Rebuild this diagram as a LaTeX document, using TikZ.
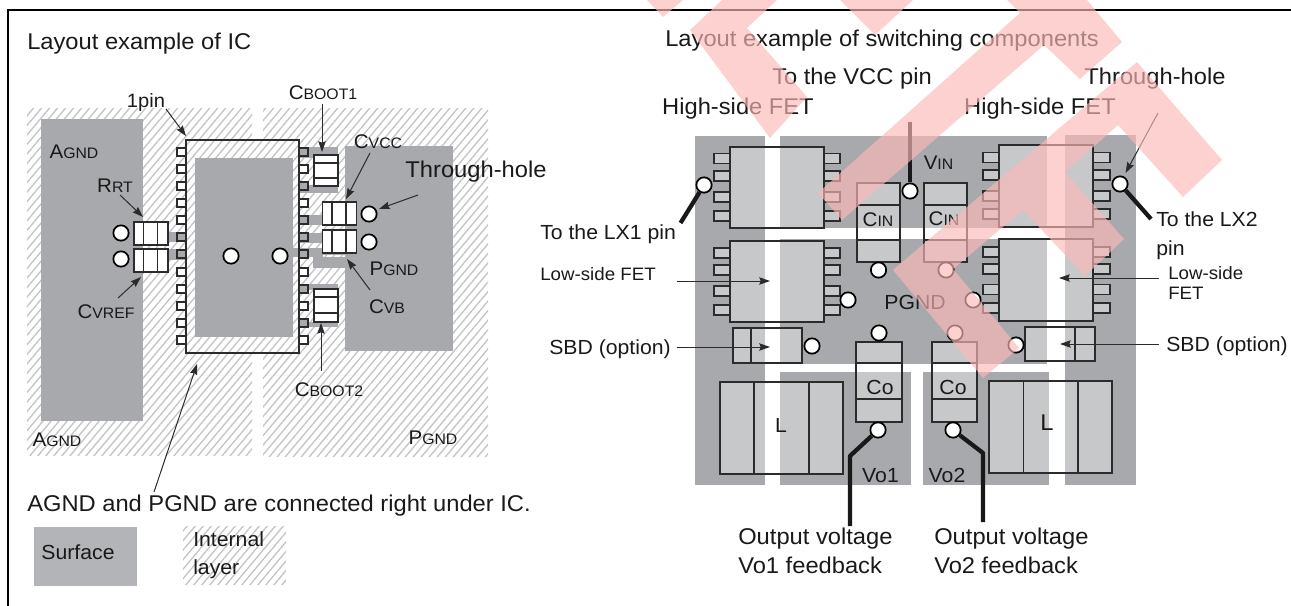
\documentclass[tikz,border=0pt]{standalone}
\usepackage{fontspec}
\setmainfont{Liberation Sans}[FakeStretch=1.04]
\usetikzlibrary{arrows.meta, patterns.meta}
\definecolor{surfgray}{HTML}{A7A9AC}
\definecolor{legendgray}{HTML}{B2B4B7}
\definecolor{chipgray}{HTML}{C6C8CA}
\definecolor{hatchgray}{HTML}{C3C4C6}
\definecolor{inkgray}{HTML}{2B2B2B}
\definecolor{markpink}{HTML}{FEB9B9}
\newcommand{\fsbig}{\fontsize{17.1}{21.75}\selectfont}
\newcommand{\fsmid}{\fontsize{15.3}{21.75}\selectfont}
\newcommand{\fssm}{\fontsize{13.5}{15}\selectfont}
\newcommand{\capsub}[2]{{\fontsize{14.8}{16}\selectfont #1\fontsize{11.4}{13}\selectfont #2}}
\tikzset{
  hatched/.style={pattern={Lines[angle=50,distance=4.6pt,line width=1pt]},pattern color=hatchgray},
  surf/.style={fill=surfgray},
  chip/.style={draw=inkgray,line width=1pt,fill=chipgray},
  chipline/.style={draw=inkgray,line width=0.8pt},
  part/.style={draw=inkgray,line width=1pt,fill=white},
  via/.style={circle,draw=black,fill=white,line width=1.3pt,inner sep=0pt,minimum size=11.5pt},
  lbl/.style={inner sep=0pt,text=black!90,text depth=0pt},
  leader/.style={draw=inkgray,line width=0.75pt,-{Stealth[inset=1pt,length=8pt,width=5.5pt]}},
  wire/.style={draw=black!90,line width=3.2pt},
  wmark/.style={fill=markpink,fill opacity=0.65}
}
\begin{document}
\begin{tikzpicture}[x=0.75pt,y=-0.75pt,font=\fsbig]
\useasboundingbox (0,0) rectangle (1291,606);
\draw[line width=1.6pt] (8,606) -- (8,10) -- (1291,10);
\node[lbl,anchor=west] (titleic) at (27,41) {Layout example of IC};
\node[lbl,anchor=west] (titlesw) at (665,38) {Layout example of switching components};
% IC side
\fill[hatched] (27,109) rectangle (252,455);
\fill[hatched] (263,109) rectangle (488,456);
\fill[hatched] (252,140) rectangle (263,353);
\fill[surf] (41,119) rectangle (143,421);
\fill[surf] (345,146) rectangle (453,351);
\fill[surf] (195,158) rectangle (293,337);
\fill[surf] (299,147) rectangle (338,158);
\fill[surf] (299,185) rectangle (338,193);
\fill[surf] (299,284) rectangle (338,290);
\fill[surf] (299,322) rectangle (338,327);
\fill[surf] (299,215) rectangle (323,225);
\fill[surf] (299,233) rectangle (323,243);
\fill[surf] (292,248) rectangle (323,257);
\fill[surf] (323,253) rectangle (357,255);
\fill[surf] (313,257) rectangle (345,268);
\fill[surf] (168,232) rectangle (186,242);
\fill[surf] (168,249) rectangle (186,260);
\foreach \py in {152,169,186,203,220,237,254,272,289,306,323,340} {
  \draw[part] (177,\py-4) rectangle (186,\py+4);
  \draw[part] (299,\py-4) rectangle (308,\py+4);
}
\foreach \py in {237,254} \draw[chip,fill=surfgray] (177,\py-4) rectangle (186,\py+4);
\foreach \py in {152,186,220,237,254,289,323} \draw[chip,fill=surfgray] (299,\py-4) rectangle (308,\py+4);
\draw[line width=1.7pt,draw=inkgray] (186,140) rectangle (299,353);
\foreach \ya/\yb/\yc/\yd in {155/163/178/186,289/297/313/322} {
  \draw[part] (314,\ya) rectangle (338,\yd);
  \draw[chipline] (314,\yb) -- (338,\yb);
  \draw[chipline] (314,\yc) -- (338,\yc);
}
\foreach \xa/\ya in {322.5/202,322.5/230,134/222,134/249} {
  \draw[part] (\xa,\ya) rectangle (\xa+34,\ya+23);
  \draw[chipline] (\xa+9.5,\ya) -- (\xa+9.5,\ya+23);
  \draw[chipline] (\xa+23.5,\ya) -- (\xa+23.5,\ya+23);
}
\node[via] (viacvcc) at (369,214) {};
\node[via] (viacvb) at (369,242) {};
\node[via] (viarrt) at (121,233) {};
\node[via] (viacvref) at (121,259) {};
\node[via] (viaicl) at (231,256) {};
\node[via] (viaicr) at (280,256) {};
\node[lbl] (pinlbl) at (146,100) {\fontsize{14.5}{16}\selectfont 1pin};
\node[lbl] (cbootalbl) at (323,93) {\capsub{C}{BOOT1}};
\node[lbl] (cvcclbl) at (378,142) {\capsub{C}{VCC}};
\node[lbl] (thruiclbl) at (476,169) {Through-hole};
\node[lbl] (agndtlbl) at (74,152) {\capsub{A}{GND}};
\node[lbl] (rrtlbl) at (115,186) {\capsub{R}{RT}};
\node[lbl] (cvreflbl) at (106,312) {\capsub{C}{VREF}};
\node[lbl] (pgndalbl) at (394,269) {\capsub{P}{GND}};
\node[lbl] (cvblbl) at (387,307) {\capsub{C}{VB}};
\node[lbl] (cbootblbl) at (329,390) {\capsub{C}{BOOT2}};
\node[lbl] (agndblbl) at (57,440) {\capsub{A}{GND}};
\node[lbl] (pgndblbl) at (433,438) {\capsub{P}{GND}};
\node[lbl,anchor=west] (underlbl) at (27,503) {AGND and PGND are connected right under IC.};
\node[fill=legendgray,minimum width=77.6pt,minimum height=44pt,inner sep=0pt] (legsurf) at (85.75,556.5) {};
\node[lbl] (legsurflbl) at (78,552) {\fsmid Surface};
\node[pattern={Lines[angle=50,distance=4.6pt,line width=1pt]},pattern color=hatchgray,minimum width=77pt,minimum height=43pt,inner sep=0pt] (leghatch) at (234.5,555.5) {};
\node[lbl,anchor=west] (leginta) at (193,539) {\fsmid Internal};
\node[lbl,anchor=west] (legintb) at (193,567) {\fsmid layer};
\foreach \nm/\xa/\ya/\xb/\yb in {apin/166/109/186/136,acba/322/104/322/152,acvc/370/153/346/199,athr/418/195/379/209,arrt/120/195/143/217,acvr/118/298/141/277,acvb/370/290/347/259,acbb/321/371/321/323,augn/154/492/197/364} {
  \coordinate (\nm s) at (\xa,\ya);
  \coordinate (\nm e) at (\xb,\yb);
  \draw[leader] (\nm s) -- (\nm e);
}
% switching side
\fill[surf] (695,136) rectangle (765,485);
\fill[surf] (780,136) rectangle (1047,228);
\fill[surf] (1065,135) rectangle (1136,485);
\fill[surf] (780,239) rectangle (1047,364);
\fill[surf] (780,372) rectangle (911,485);
\fill[surf] (923,372) rectangle (1049,485);
\foreach \xa/\ya/\xb/\yb in {730/147/824/228,999/145/1093/227,730/241/824/322,999/239/1093/321,857/183/900/262,924/183/967/262,856/342/902/422,932/342/977/422,733/328/802/363,1025/327/1095/361,720/382/843/474,989/381/1112/473}
  \fill[chipgray] (\xa,\ya) rectangle (\xb,\yb);
\fill[white] (765,147) rectangle (780,228);
\fill[white] (765,241) rectangle (780,322);
\fill[white] (765,328) rectangle (780,363);
\fill[white] (765,382) rectangle (780,474);
\fill[white] (1047,145) rectangle (1065,227);
\fill[white] (1047,239) rectangle (1065,321);
\fill[white] (1047,327) rectangle (1065,361);
\fill[white] (1049,381) rectangle (1065,473);
\fill[white] (857,228) rectangle (900,240);
\fill[white] (924,228) rectangle (967,240);
\fill[white] (856,364) rectangle (902,372);
\fill[white] (932,364) rectangle (977,372);
\foreach \xa/\ya/\xb/\yb in {730/147/824/228,999/145/1093/227,730/241/824/322,999/239/1093/321,857/183/900/262,924/183/967/262,856/342/902/422,932/342/977/422,733/328/802/363,1025/327/1095/361,720/382/843/474,989/381/1112/473}
  \draw[inkgray,line width=1.2pt] (\xa,\ya) rectangle (\xb,\yb);
\foreach \py in {158.5,176,197,216} {
  \draw[chip] (714,\py-5) rectangle (730,\py+5);
  \draw[chip] (824,\py-5) rectangle (840,\py+5);
}
\foreach \py in {157.5,175,196,214} {
  \draw[chip] (983,\py-5) rectangle (999,\py+5);
  \draw[chip] (1093,\py-5) rectangle (1110,\py+5);
}
\foreach \py in {253,270,291,310} {
  \draw[chip] (714,\py-5) rectangle (730,\py+5);
  \draw[chip] (824,\py-5) rectangle (840,\py+5);
}
\foreach \py in {252,269,289.5,308} {
  \draw[chip] (983,\py-5) rectangle (999,\py+5);
  \draw[chip] (1093,\py-5) rectangle (1110,\py+5);
}
\draw[chipline] (857,205) -- (900,205);
\draw[chipline] (857,240) -- (900,240);
\draw[chipline] (924,205) -- (967,205);
\draw[chipline] (924,240) -- (967,240);
\draw[chipline] (856,363) -- (902,363);
\draw[chipline] (856,399) -- (902,399);
\draw[chipline] (932,363) -- (977,363);
\draw[chipline] (932,399) -- (977,399);
\draw[chipline] (751,328) -- (751,363);
\draw[chipline] (1075,327) -- (1075,361);
\draw[chipline] (754,382) -- (754,474);
\draw[chipline] (809,382) -- (809,474);
\draw[chipline] (1023.5,381) -- (1023.5,473);
\draw[chipline] (1078,381) -- (1078,473);
\node[via] (vialxa) at (704,185) {};
\node[via] (viavcc) at (910,191) {};
\node[via] (vialxb) at (1120,184) {};
\node[via] (viacina) at (878.5,270) {};
\node[via] (viacinb) at (946,270) {};
\node[via] (vialsa) at (848,300) {};
\node[via] (vialsb) at (973,300) {};
\node[via] (viacoat) at (879,333) {};
\node[via] (viacobt) at (955,333) {};
\node[via] (viasbda) at (812,346) {};
\node[via] (viasbdb) at (1016,345) {};
\node[via] (viacoab) at (878,430) {};
\node[via] (viacobb) at (953,430) {};
\coordinate (lxaend) at (680.5,223);
\coordinate (vccend) at (910,122);
\coordinate (lxbend) at (1151,219);
\coordinate (voabend) at (850,456);
\coordinate (voaend) at (850,526);
\coordinate (vobbend) at (983,453);
\coordinate (vobend) at (983,522);
\draw[wire] (vialxa) -- (lxaend);
\draw[wire] (viavcc) -- (vccend);
\draw[wire] (vialxb) -- (lxbend);
\draw[wire,line join=round] (viacoab) -- (voabend) -- (voaend);
\draw[wire,line join=round] (viacobb) -- (vobbend) -- (vobend);
\node[lbl] (vcclbl) at (852,76) {To the VCC pin};
\node[lbl] (thrswlbl) at (1155,76) {Through-hole};
\node[lbl] (hsalbl) at (738,106) {High-side FET};
\node[lbl] (hsblbl) at (1040,106) {High-side FET};
\node[lbl] (vinlbl) at (938.5,163) {\capsub{V}{IN}};
\node[lbl] (cinalbl) at (878,220) {\capsub{C}{IN}};
\node[lbl] (cinblbl) at (944,219) {\capsub{C}{IN}};
\node[lbl,anchor=west] (lxalbl) at (540,232) {\fsmid To the LX1 pin};
\node[lbl,anchor=west] (lsalbl) at (540,274) {\fssm Low-side FET};
\node[lbl,anchor=west] (sbdalbl) at (549,347) {\fsmid SBD (option)};
\node[lbl,anchor=west] (sbdblbl) at (1166,344) {\fsmid SBD (option)};
\node[lbl,anchor=north west,align=left,font=\fsmid] (lxblbl) at (1156,211) {To the LX2\\pin};
\node[lbl,anchor=north west,align=left,font=\fssm] (lsblbl) at (1168,266) {Low-side\\FET};
\node[lbl] (pgndlbl) at (915,302) {\fsmid PGND};
\node[lbl] (coalbl) at (880,387) {\fsmid Co};
\node[lbl] (coblbl) at (953,387) {\fsmid Co};
\node[lbl] (lalbl) at (781,425) {\fsmid L};
\node[lbl] (lblbl) at (1047,423) {\fsbig L};
\node[lbl] (voalbl) at (880.5,475) {\fsmid Vo1};
\node[lbl] (voblbl) at (947,475) {\fsmid Vo2};
\node[lbl,anchor=north west,align=left,font=\fsbig] (fbalbl) at (738,528) {Output voltage\\Vo1 feedback};
\node[lbl,anchor=north west,align=left,font=\fsbig] (fbblbl) at (934,528) {Output voltage\\Vo2 feedback};
\foreach \nm/\xa/\ya/\xb/\yb in {blsa/676.5/281/770/281,blsb/1159/278/1059/278,bsba/676.5/347/770/347,bsbb/1159/344/1060/344,bthr/1158/113/1125.5/173} {
  \coordinate (\nm s) at (\xa,\ya);
  \coordinate (\nm e) at (\xb,\yb);
  \draw[leader] (\nm s) -- (\nm e);
}
% overlay mark
\fill[wmark] (647,0) -- (663,17) -- (683,0) -- cycle;
\fill[wmark] (722,0) -- (690,30) -- (770,138) -- (807,97) -- (747,28) -- (777,0) -- cycle;
\fill[wmark] (840,0) -- (875,35) -- (913,0) -- cycle;
\fill[wmark] (1007,0) -- (1020,13) -- (818,193) -- (842,220) -- (1044,45) -- (1080,79) -- (1122,42) -- (1087,0) -- cycle;
\fill[wmark] (1137,62) -- (1222,160) -- (1183,197) -- (1118,125) -- (1065,172) -- (1124,239) -- (1085,276) -- (1023,210) -- (953,269) -- (1019,348) -- (983,378) -- (893,270) -- cycle;
\end{tikzpicture}
\end{document}
